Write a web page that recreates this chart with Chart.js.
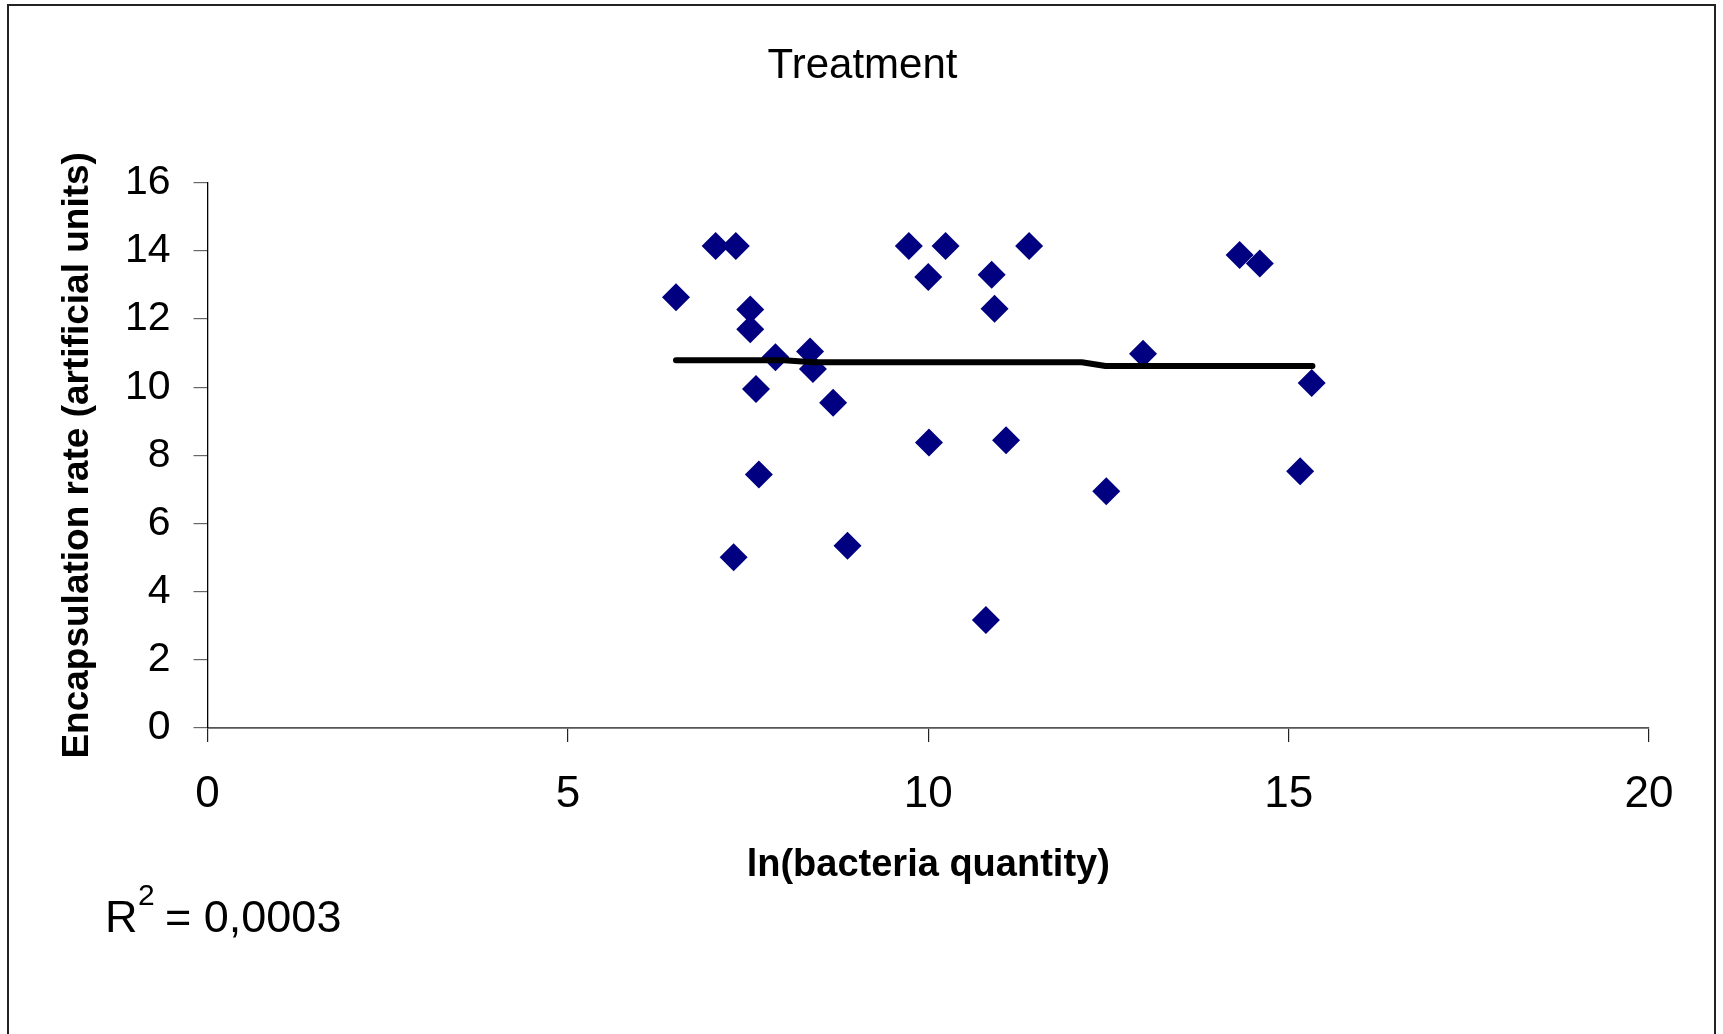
<!DOCTYPE html>
<html>
<head>
<meta charset="utf-8">
<title>Treatment</title>
<script src="https://cdn.jsdelivr.net/npm/chart.js@4/dist/chart.umd.min.js"></script>
<style>
  html, body { margin: 0; padding: 0; background: #fff; }
  #wrap { width: 1723px; height: 1034px; }
</style>
</head>
<body>
<div id="wrap"><canvas id="chart" width="1723" height="1034"></canvas></div>
<script>
// measured points: ln(bacteria quantity) vs encapsulation rate
const lnBacteria = [6.5, 7.05, 7.33, 7.53, 7.53, 7.88, 8.36, 8.4, 7.61, 8.68, 7.65, 7.3, 8.88,
                    9.73, 10.24, 10.0, 10.88, 10.92, 11.4, 10.01, 11.08, 10.8, 12.47, 12.98,
                    14.32, 14.6, 15.32, 15.16];
const encapsulation = [12.64, 14.14, 14.14, 12.28, 11.7, 10.88, 11.05, 10.53, 9.95, 9.54, 7.44, 5.01, 5.35,
                       14.14, 14.14, 13.23, 13.3, 12.3, 14.14, 8.38, 8.44, 3.17, 6.95, 10.98,
                       13.88, 13.63, 10.12, 7.53];

// trend line as drawn (nearly flat)
const trendX = [6.5, 8.0, 8.4, 12.13, 12.46, 15.33];
const trendY = [10.79, 10.79, 10.73, 10.73, 10.62, 10.62];

const xTicks = [0, 5, 10, 15, 20];
const yTicks = [0, 2, 4, 6, 8, 10, 12, 14, 16];

const FONT = '"Liberation Sans", Arial, sans-serif';

const toXY = (xs, ys) => xs.map((x, i) => ({ x: x, y: ys[i] }));

// frame, R² note, and re-centre the title over the whole page
const extras = {
    id: 'extras',
    afterLayout(chart) {
        const t = chart.titleBlock;
        if (t) {
            t.left = 0;
            t.right = 1725;
            t.width = 1725;
        }
    },
    afterDraw(chart) {
        const ctx = chart.ctx;
        ctx.save();
        ctx.strokeStyle = '#222';
        ctx.lineWidth = 2;
        ctx.beginPath();
        ctx.moveTo(8, 1040);
        ctx.lineTo(8, 5);
        ctx.lineTo(1715, 5);
        ctx.lineTo(1715, 1040);
        ctx.stroke();

        ctx.fillStyle = '#000';
        ctx.textBaseline = 'alphabetic';
        ctx.textAlign = 'left';
        ctx.font = '45px ' + FONT;
        ctx.fillText('R', 105, 932);
        ctx.font = '30px ' + FONT;
        ctx.fillText('2', 138, 905);
        ctx.font = '45px ' + FONT;
        ctx.fillText('= 0,0003', 165, 932);
        ctx.restore();
    }
};

new Chart(document.getElementById('chart'), {
    type: 'scatter',
    data: {
        datasets: [
            {
                type: 'line',
                label: 'Trend',
                data: toXY(trendX, trendY),
                borderColor: '#000',
                borderWidth: 6,
                borderCapStyle: 'round',
                borderJoinStyle: 'round',
                pointRadius: 0,
                fill: false,
                tension: 0
            },
            {
                label: 'Treatment',
                data: toXY(lnBacteria, encapsulation),
                pointStyle: 'rectRot',
                pointRadius: 14,
                pointBackgroundColor: '#000080',
                pointBorderColor: '#000080',
                pointBorderWidth: 0
            }
        ]
    },
    options: {
        responsive: false,
        animation: false,
        layout: { padding: { left: 0, right: 74, top: 0, bottom: 146 } },
        plugins: {
            legend: { display: false },
            tooltip: { enabled: false },
            title: {
                display: true,
                text: 'Treatment',
                color: '#000',
                font: { family: FONT, size: 42, weight: 'normal', lineHeight: 1.2 },
                padding: { top: 41.4, bottom: 90.9 }
            }
        },
        scales: {
            x: {
                type: 'linear',
                min: 0,
                max: 20,
                afterBuildTicks: (s) => { s.ticks = xTicks.map(v => ({ value: v })); },
                afterFit: (s) => { s.height = 160; },
                ticks: { color: '#000', padding: 26, font: { family: FONT, size: 44 } },
                grid: { drawOnChartArea: false, drawTicks: true, tickLength: 14, color: '#222', lineWidth: 1.2 },
                border: { color: '#555', width: 1.8 },
                title: {
                    display: true,
                    text: 'ln(bacteria quantity)',
                    color: '#000',
                    font: { family: FONT, size: 38, weight: 'bold', lineHeight: 1.2 },
                    padding: { top: 0, bottom: 0 }
                }
            },
            y: {
                type: 'linear',
                min: 0,
                max: 16,
                afterBuildTicks: (s) => { s.ticks = yTicks.map(v => ({ value: v })); },
                afterFit: (s) => { s.width = 207.5; },
                ticks: { color: '#000', padding: 23, font: { family: FONT, size: 41 } },
                grid: { drawOnChartArea: false, drawTicks: true, tickLength: 14, color: '#666', lineWidth: 1.2 },
                border: { color: '#000', width: 1.3 },
                title: {
                    display: true,
                    text: 'Encapsulation rate (artificial units)',
                    color: '#000',
                    font: { family: FONT, size: 37, weight: 'bold', lineHeight: 1.2 },
                    padding: { top: 56, bottom: 0 }
                }
            }
        }
    },
    plugins: [extras]
});
</script>
</body>
</html>
